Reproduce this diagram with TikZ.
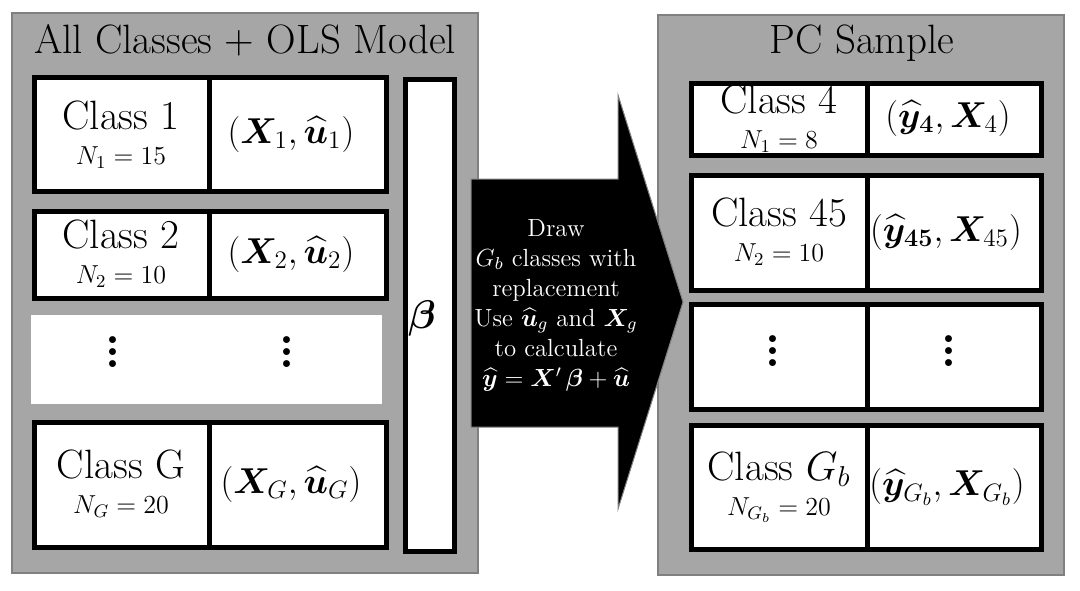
\RequirePackage{fix-cm}
\documentclass[tikz,border=0pt]{standalone}
\usepackage{amsmath, bm, graphicx}

\tikzset{
  panel/.style = {fill = black!35, draw = black!50, line width = 1pt},
  cellbox/.style = {fill = white, draw = black, line width = 2.5pt},
  cls/.style = {align = center, font = \fontsize{20.5}{17.5}\selectfont},
  pair/.style = {font = \fontsize{18}{22}\selectfont},
  title/.style = {font = \fontsize{20.5}{24}\selectfont},
  arrowtext/.style = {text = white, align = center, font = \fontsize{12.4}{15}\selectfont}
}
\newcommand{\Nsize}{\fontsize{13}{17.5}\selectfont}
\newcommand{\bigdot}{\hbox{\fontsize{24}{24}\bfseries\selectfont.}}
\newcommand{\bigvdots}{\vbox{\baselineskip 6pt \lineskiplimit 0pt \bigdot\bigdot\bigdot}}

\begin{document}
\begin{tikzpicture}[x = 0.5pt, y = -0.5pt]
\useasboundingbox (0,0) rectangle (1080,590);
% panels
\draw[panel] (12,13) rectangle (478,573);
\draw[panel] (658,15) rectangle (1064,575);
% left panel
\node[title] (ttlA) at (245,40) {All Classes + OLS Model};
\draw[cellbox] (34,77) rectangle (386,191);
\draw[cellbox] (209,77) -- (209,191);
\node[cls] (cl1) at (121,135) {Class 1\\{\Nsize $N_1 = 15$}};
\node[pair] (pr1) at (291,134) {$(\bm{X}_1, \widehat{\bm{u}}_1)$};
\draw[cellbox] (34,211) rectangle (386,298);
\draw[cellbox] (209,211) -- (209,298);
\node[cls] (cl2) at (121,254) {Class 2\\{\Nsize $N_2 = 10$}};
\node[pair] (pr2) at (291,254) {$(\bm{X}_2, \widehat{\bm{u}}_2)$};
\fill[white] (31,315) rectangle (382,404);
\node (dtA) at (113,352) {\bigvdots};
\node (dtB) at (287,352) {\bigvdots};
\draw[cellbox] (34,422) rectangle (386,547);
\draw[cellbox] (209,422) -- (209,547);
\node[cls] (clG) at (121,484) {Class G\\{\Nsize $N_G = 20$}};
\node[pair] (prG) at (291,484) {$(\bm{X}_G, \widehat{\bm{u}}_G)$};
\draw[cellbox] (405,79) rectangle (454,551);
\node[font = \fontsize{20}{24}\selectfont] (beta) at (422,318) {$\bm{\beta}$};
% right panel
\node[title] (ttlB) at (862,43) {PC Sample};
\draw[cellbox] (691,83) rectangle (1041,155);
\draw[cellbox] (867,83) -- (867,155);
\node[cls] (cl4) at (779,119) {Class 4\\{\Nsize $N_1 = 8$}};
\node[pair] (pr4) at (948,118) {$(\widehat{\bm{y}}_{\bm{4}}, \bm{X}_4)$};
\draw[cellbox] (691,175) rectangle (1041,290);
\draw[cellbox] (867,175) -- (867,290);
\node[cls] (cl45) at (779,232) {Class 45\\{\Nsize $N_2 = 10$}};
\node[pair] (pr45) at (946,232) {$(\widehat{\bm{y}}_{\bm{45}}, \bm{X}_{45})$};
\draw[cellbox] (691,304) rectangle (1041,409);
\draw[cellbox] (867,304) -- (867,409);
\node (dtC) at (773,351) {\bigvdots};
\node (dtD) at (949,351) {\bigvdots};
\draw[cellbox] (691,425) rectangle (1041,549);
\draw[cellbox] (867,425) -- (867,549);
\node[cls] (clGb) at (779,487) {Class $G_b$\\{\Nsize $N_{G_b} = 20$}};
\node[pair] (prGb) at (947,487) {$(\widehat{\bm{y}}_{G_b}, \bm{X}_{G_b})$};
% arrow
\fill[black, draw = black!50, line width = 0.5pt] (471,179) -- (618,179) -- (618,95) -- (683,302)
  -- (618,509) -- (618,427) -- (471,427) -- cycle;
\node[arrowtext] (step) at (556,305) {Draw\\$G_b$ classes with\\replacement\\
  Use $\widehat{\bm{u}}_g$ and $\bm{X}_g$\\to calculate\\
  $\widehat{\bm{y}} = \bm{X}'\,\bm{\beta} + \widehat{\bm{u}}$};
\end{tikzpicture}
\end{document}
